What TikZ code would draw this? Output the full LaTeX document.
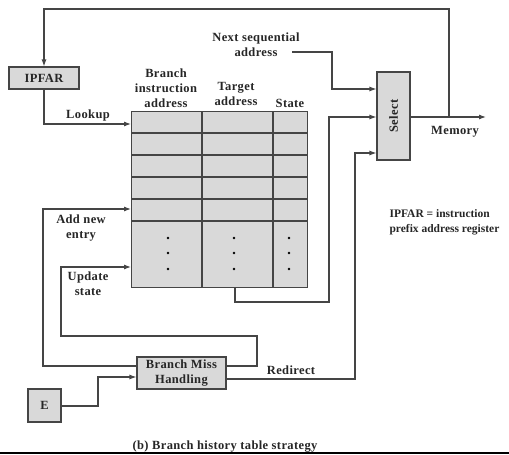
\documentclass[tikz,border=0pt]{standalone}
\usepackage{fontspec}
\setmainfont{Liberation Serif}[LetterSpace=3]
\newfontfamily\notefont{Liberation Serif}
\usetikzlibrary{arrows.meta}
\definecolor{boxgray}{HTML}{D9D9D9}
\definecolor{linegray}{HTML}{454545}
\begin{document}
\begin{tikzpicture}[x=1pt,y=-1pt,
  line width=1.1pt, draw=linegray,
  every node/.style={font=\fontsize{12.5}{15}\selectfont\bfseries, text=black!85, inner sep=0pt},
  box/.style={draw=linegray, fill=boxgray, line width=1.1pt},
  lbl/.style={align=center},
  arr/.style={draw=linegray, -{Latex[length=7pt,width=5pt]}},
  wire/.style={draw=linegray}]
\useasboundingbox (0,0) rectangle (509,455);

% boxes
\node[box, minimum width=70pt, minimum height=22pt] (ipfar) at (44,78) {IPFAR};
\node[box, minimum width=33pt, minimum height=88pt] (sel) at (393.5,116) {\rotatebox{90}{Select}};
\node[box, minimum width=89pt, minimum height=32pt, align=center] (bmh) at (181.5,373) {Branch Miss\\Handling};
\node[box, minimum width=33pt, minimum height=33pt] (e) at (44.5,405.5) {E};

% table
\node[box, anchor=north west, minimum width=176pt, minimum height=176pt] (tab) at (131,111) {};
\foreach \yy in {133,155,177,199,221} \draw[wire] (131,\yy) -- (307,\yy);
\draw[wire] (202,111) -- (202,287);
\draw[wire] (273,111) -- (273,287);
\foreach \xx in {168,234,289} \foreach \yy in {238,253,269} \fill[black] (\xx,\yy) circle (1.3pt);

% column headers
\node[lbl] (h1) at (166,88) {Branch\\instruction\\address};
\node[lbl] (h2) at (236,94) {Target\\address};
\node[lbl] (h3) at (290,103) {State};

% other labels
\node[lbl] (nsa) at (256,45) {Next sequential\\address};
\node (lookup) at (88,115) {Lookup};
\node[lbl] (addnew) at (81,228) {Add new\\entry};
\node[lbl] (upd) at (88,284) {Update\\state};
\node (redir) at (291,370) {Redirect};
\node (mem) at (455,132) {Memory};
\node[anchor=west, align=left, font=\notefont\fontsize{11.5}{15}\selectfont\bfseries] (note) at (389,222) {IPFAR = instruction\\prefix address register};
\node (cap) at (225,447) {(b) Branch history table strategy};

% coordinates
\coordinate (jn) at (449,117);
\coordinate (memout) at (486,117);
\coordinate (nsaend) at (292,52);

% connectors
\draw[arr] (sel.east |- jn) -- (memout);
\draw[arr] (jn) -- (449,9) -| (ipfar.north);
\draw[arr] (ipfar.south) |- (tab.west |- 0,124);
\draw[arr] (nsaend) -- (332,52) |- (sel.west |- 0,89);
\draw[arr] (235,287) -- (235,302) -- (329,302) -- (329,117) -- (sel.west |- 0,117);
\draw[arr] (bmh.east |- 0,379) -- (355,379) -- (355,153) -- (sel.west |- 0,153);
\draw[arr] (bmh.west |- 0,366) -| (43,209) -- (tab.west |- 0,209);
\draw[arr] (bmh.east |- 0,366) -- (257,366) -- (257,336) -- (61,336) -- (61,267) -- (tab.west |- 0,267);
\draw[arr] (e.east |- 0,406) -- (98,406) -- (98,377) -- (bmh.west |- 0,377);

% bottom rule
\draw[black, line width=1.6pt] (0,453) -- (509,453);
\end{tikzpicture}
\end{document}
